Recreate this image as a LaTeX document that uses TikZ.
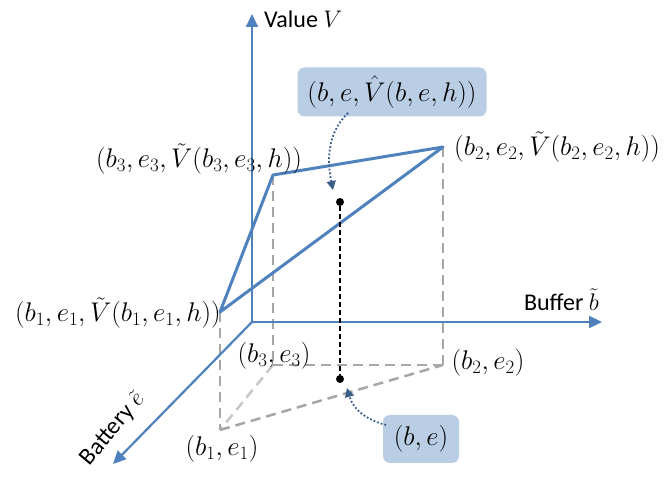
\RequirePackage{fix-cm}
\documentclass[tikz,border=0pt]{standalone}
\usepackage{fontspec}
\newfontfamily\calibri{Carlito}
\usetikzlibrary{arrows.meta}
\definecolor{axblue}{RGB}{79,129,189}
\definecolor{boxblue}{RGB}{185,205,229}
\definecolor{darkblue}{RGB}{56,93,138}
\definecolor{dgray}{RGB}{166,166,166}
\definecolor{lgray}{RGB}{200,200,200}
\begin{document}
\begin{tikzpicture}[x=1pt,y=-1pt,
  axis/.style={draw=axblue,line width=2.2pt,-{Triangle[width=12pt,length=13pt]}},
  surf/.style={draw=axblue,line width=3pt,line join=round},
  drop/.style={draw=dgray,line width=2.5pt,dash pattern=on 10pt off 6pt},
  vline/.style={draw=black,line width=2.2pt,dash pattern=on 5pt off 3pt},
  lbl/.style={font=\fontsize{27}{31}\selectfont,inner sep=0pt},
  axlbl/.style={font=\calibri\fontsize{24}{28}\selectfont,inner sep=0pt},
  callout/.style={fill=boxblue,rounded corners=7pt,inner sep=0pt,font=\fontsize{27}{31}\selectfont},
  pointer/.style={draw=darkblue,line width=1.8pt,dotted,-{Triangle[width=9pt,length=9pt]}},
  dot/.style={circle,fill=black,inner sep=0pt,minimum size=8pt}]
\useasboundingbox (0,0) rectangle (670,486);
% coordinates
\coordinate (O) at (252,322);
\coordinate (Vt) at (252,14);
\coordinate (Bt) at (602,322);
\coordinate (Et) at (113,464);
\coordinate (P1) at (220,312);
\coordinate (P2) at (443,147);
\coordinate (P3) at (273,175);
\coordinate (Q1) at (220,430);
\coordinate (Q2) at (443,365);
\coordinate (Q3) at (273,365);
% floor dashed
\draw[drop,draw=lgray] (Q3) -- (Q1);
\draw[drop] (Q1) -- (Q2);
\draw[drop] (Q3) -- (Q2);
\draw[drop] (P1) -- (Q1);
\draw[drop] (P3) -- (Q3);
\draw[drop] (P2) -- (Q2);
% axes
\draw[axis] (O) -- (Vt);
\draw[axis] (O) -- (Bt);
\draw[axis] (O) -- (Et);
% surface
\draw[surf] (P1) -- (P3) -- (P2) -- cycle;
% vertical black
\node[dot] (T) at (340,202) {};
\node[dot] (B) at (340,379) {};
\draw[vline] (T) -- (B);
% labels
\node[axlbl,anchor=west] (lv) at (264,19) {Value $V$};
\node[axlbl,anchor=east] (lb) at (599,300) {Buffer $\tilde b$};
\node[axlbl,rotate=50,anchor=center] (le) at (113,429) {Battery $\tilde e$};
\node[lbl,anchor=east] (l1) at (221,313) {$(b_1,e_1,\tilde V(b_1,e_1,h))$};
\node[lbl,anchor=west] (l2) at (454,147) {$(b_2,e_2,\tilde V(b_2,e_2,h))$};
\node[lbl] (l3) at (199,159) {$(b_3,e_3,\tilde V(b_3,e_3,h))$};
\node[lbl] (f1) at (222,449) {$(b_1,e_1)$};
\node[lbl] (f2) at (488,363) {$(b_2,e_2)$};
\node[lbl] (f3) at (274,356) {$(b_3,e_3)$};
% callouts
\node[callout,minimum width=189pt,minimum height=49pt] (c1) at (392,92) {$(b,e,\hat V(b,e,h))$};
\node[callout,minimum width=76pt,minimum height=48pt] (c2) at (421,439) {$(b,e)$};
\draw[pointer] (348,113) .. controls (325,135) and (328,165) .. (333,190);
\draw[pointer] (386,425) .. controls (360,418) and (352,405) .. (347,388);
\end{tikzpicture}
\end{document}
